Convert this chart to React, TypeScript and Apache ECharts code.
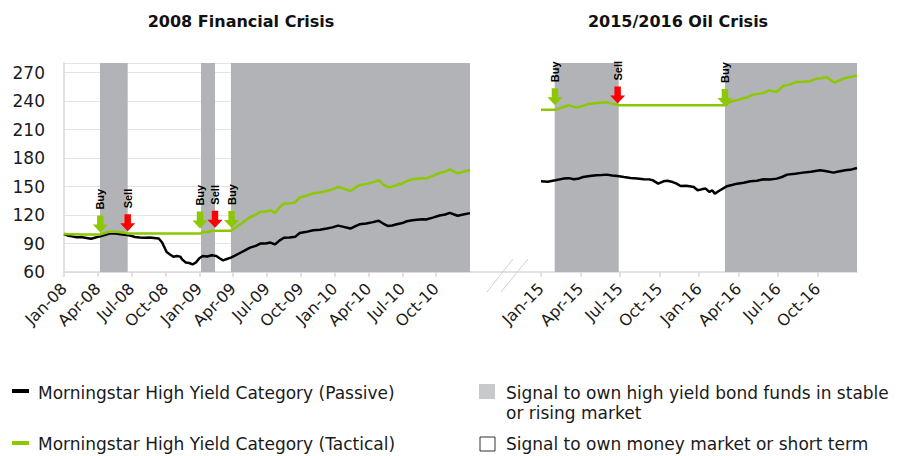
import React, { useEffect, useRef } from "react";
import * as echarts from "echarts";

// x values are months since the first month of each panel (Jan-08 / Jan-15)
const xLabels2008 = ["Jan-08", "Apr-08", "Jul-08", "Oct-08", "Jan-09", "Apr-09", "Jul-09", "Oct-09", "Jan-10", "Apr-10", "Jul-10", "Oct-10"];
const xLabels2015 = ["Jan-15", "Apr-15", "Jul-15", "Oct-15", "Jan-16", "Apr-16", "Jul-16", "Oct-16"];

const passive2008: [number, number][] = [
  [0, 100], [0.3, 98.5], [0.7, 97.5], [1.1, 96.5], [1.5, 96.8], [2.0, 95.8], [2.4, 95.0], [2.8, 96.3],
  [3.2, 97.5], [3.6, 99], [4.1, 100.8], [4.6, 100.5], [5.0, 99.8], [5.4, 99.2], [5.85, 98.3], [6.3, 96.8],
  [6.7, 96.2], [7.2, 96.0], [7.6, 96.3], [8.0, 95.8], [8.4, 95.2], [8.7, 91], [8.9, 86], [9.1, 81],
  [9.4, 78.5], [9.7, 76], [10.0, 76.8], [10.3, 76.2], [10.5, 73], [10.8, 70], [11.1, 69.5], [11.4, 68],
  [11.7, 70], [12.0, 74.5], [12.3, 76.8], [12.7, 76.3], [13.1, 77.6], [13.5, 76.8], [13.8, 74.5], [14.1, 72.3],
  [14.5, 74], [14.8, 75.2], [15.2, 77.5], [15.6, 80], [16.0, 82.5], [16.5, 85.7], [17.0, 87.5], [17.4, 89.9],
  [17.9, 90], [18.3, 91], [18.7, 89], [19.1, 93], [19.5, 96], [20.0, 96.2], [20.5, 97], [20.9, 101],
  [21.4, 102], [22.1, 103.9], [22.7, 104.5], [23.3, 105.7], [23.8, 107], [24.3, 108.8], [24.8, 107.5], [25.4, 105.7],
  [25.8, 108], [26.2, 110.2], [26.8, 111], [27.4, 112.5], [27.9, 114], [28.3, 111], [28.7, 108.5], [29.1, 109],
  [29.5, 110.2], [30.0, 111.5], [30.4, 113.4], [30.9, 114.5], [31.3, 115.1], [31.8, 115.5], [32.1, 115.2], [32.7, 117.2],
  [33.3, 119.5], [33.8, 120.5], [34.2, 122.3], [34.6, 120.5], [34.9, 119.2], [35.4, 120.5], [36, 122],
];

const tactical2008: [number, number][] = [
  [0, 100], [0.5, 99.8], [1.1, 99.7], [1.6, 99.6], [2.2, 99.4], [2.8, 99.4], [3.2, 99.5], [3.6, 101],
  [4.1, 102.5], [4.6, 102.3], [5.0, 101.8], [5.4, 101.2], [5.65, 100.6], [12.15, 100.6], [12.3, 102.3], [12.7, 101.8],
  [13.1, 103.4], [13.4, 103.4], [14.8, 103.4], [15.2, 106.5], [15.6, 110], [16.0, 113.5], [16.5, 117.8], [17.0, 120.3],
  [17.4, 123.5], [17.9, 123.6], [18.3, 125], [18.7, 122.3], [19.1, 127.8], [19.5, 132], [20.0, 132.2], [20.5, 133.3],
  [20.9, 138.5], [21.4, 140], [22.1, 142.8], [22.7, 143.6], [23.3, 145.3], [23.8, 147], [24.3, 149.5], [24.8, 147.8],
  [25.4, 145.3], [25.8, 148.5], [26.2, 151.5], [26.8, 152.5], [27.4, 154.6], [27.9, 156.6], [28.3, 152.5], [28.7, 149.2],
  [29.1, 149.8], [29.5, 151.5], [30.0, 153.2], [30.4, 155.8], [30.9, 157.3], [31.3, 158.2], [31.8, 158.8], [32.1, 158.3],
  [32.7, 161.1], [33.3, 164.2], [33.8, 165.6], [34.2, 168], [34.6, 165.6], [34.9, 163.8], [35.4, 165.6], [36, 167.5],
];

const passive2015: [number, number][] = [
  [0, 155.5], [0.5, 155], [1.1, 156.5], [1.7, 158.3], [2.1, 158.8], [2.5, 157.6], [2.9, 158.5], [3.2, 160],
  [3.7, 161], [4.2, 161.8], [4.6, 162], [5.0, 162.5], [5.4, 161.5], [5.8, 161.1], [6.3, 160], [6.8, 159],
  [7.3, 158.5], [7.8, 157.6], [8.2, 157.5], [8.5, 156.5], [8.9, 153], [9.3, 155.5], [9.6, 156], [10.0, 154.7],
  [10.3, 153], [10.6, 150.5], [11.0, 150.8], [11.3, 150.2], [11.6, 149.5], [11.9, 146], [12.2, 147], [12.5, 147.8],
  [12.8, 144.2], [13.0, 146], [13.2, 142.5], [13.6, 146], [14.1, 150.2], [14.5, 151.5], [14.9, 153], [15.4, 154],
  [15.9, 155.5], [16.4, 156], [16.9, 157.6], [17.4, 157.3], [17.9, 158.3], [18.3, 160], [18.7, 162.5], [19.3, 163.5],
  [19.9, 164.6], [20.5, 165.5], [21.2, 167], [21.7, 166], [22.2, 164.6], [22.6, 165.8], [23.1, 167], [23.6, 168], [24, 169.5],
];

const tactical2015: [number, number][] = [
  [0, 230.9], [1.1, 230.9], [1.4, 232.3], [1.7, 233.7], [2.1, 235.5], [2.7, 233], [3.1, 234.5], [3.5, 236.5],
  [4.2, 237.9], [5.0, 238.6], [5.4, 237.2], [5.9, 235.5], [14.0, 235.5], [14.3, 238.5], [14.6, 240], [15.0, 241.2],
  [15.4, 243.2], [15.7, 244], [16.1, 246.7], [16.5, 247.5], [16.9, 248.4], [17.3, 251.3], [17.9, 249.5], [18.4, 255.8],
  [18.8, 257], [19.4, 260], [19.9, 260.3], [20.4, 260.7], [20.9, 263.6], [21.3, 264], [21.7, 265.3], [22.0, 262],
  [22.3, 259.4], [22.7, 262], [23.1, 264.2], [23.6, 265.5], [24, 267],
];

// periods with a signal to own high yield bond funds [start, end] in months
const owned2008: [number, number][] = [[3.19, 5.65], [12.15, 13.39], [14.8, 36]];
const owned2015: [number, number][] = [[1.04, 5.9], [13.97, 24]];

// buy / sell signals: [month, level of arrow tip, type]
const signals2008: [number, number, string][] = [
  [3.22, 101.5, "Buy"], [5.65, 102.8, "Sell"], [12.06, 105.7, "Buy"], [13.39, 106.7, "Sell"], [14.86, 106.3, "Buy"],
];
const signals2015: [number, number, string][] = [
  [1.06, 235.5, "Buy"], [5.82, 237.3, "Sell"], [13.97, 234.8, "Buy"],
];

const GREEN = "#8cc800";
const RED = "#ff0000";
const SHADE = "#b1b3b6";
const AXIS = "#d9d9d9";
const FONT = "DejaVu Sans";
const ARROW = "path://M4,0 L10,0 L10,9 L14,9 L7,17 L0,9 L4,9 Z";

function signalPoints(sig: [number, number, string][]) {
  return sig.map(([m, v, t]) => ({
    coord: [m, v],
    symbol: ARROW,
    symbolSize: [15, 17],
    symbolOffset: [0, "-50%"],
    itemStyle: { color: t === "Buy" ? GREEN : RED },
    label: {
      show: true,
      formatter: t,
      position: "top",
      distance: 6,
      rotate: 90,
      align: "left",
      verticalAlign: "middle",
      color: "#000",
      fontSize: 11,
      fontWeight: "bold",
      fontFamily: "Liberation Sans",
    },
  }));
}

function areas(list: [number, number][]) {
  return list.map(([a, b]) => [{ xAxis: a }, { xAxis: b }]);
}

export default function App() {
  const ref = useRef<HTMLDivElement>(null);
  useEffect(() => {
    if (!ref.current) return;
    const chart = echarts.init(ref.current, null, { renderer: "svg" });
    const xAxisCommon = {
      type: "value",
      interval: 3,
      axisLine: { show: true, lineStyle: { color: AXIS, width: 1.5 } },
      axisTick: { show: true, length: 5, lineStyle: { color: AXIS, width: 1.5 } },
      splitLine: { show: false },
      axisLabel: {
        rotate: 45,
        margin: 14,
        fontSize: 16,
        fontFamily: FONT,
        color: "#1a1a1a",
        showMaxLabel: false,
      },
    };
    const legendFont = `17px '${FONT}'`;
    chart.setOption({
      animation: false,
      title: [
        { text: "2008 Financial Crisis", left: 236, top: 8, textAlign: "center", textStyle: { fontFamily: FONT, fontSize: 16, fontWeight: "bold", color: "#111" } },
        { text: "2015/2016 Oil Crisis", left: 673, top: 8, textAlign: "center", textStyle: { fontFamily: FONT, fontSize: 16, fontWeight: "bold", color: "#111" } },
      ],
      grid: [
        { left: 64, top: 63, width: 406, height: 209 },
        { left: 541, top: 63, width: 316, height: 209 },
      ],
      xAxis: [
        { ...xAxisCommon, gridIndex: 0, min: 0, max: 36, axisLabel: { ...xAxisCommon.axisLabel, formatter: (v: number) => xLabels2008[Math.round(v / 3)] ?? "" } },
        { ...xAxisCommon, gridIndex: 1, min: 0, max: 24, axisLabel: { ...xAxisCommon.axisLabel, formatter: (v: number) => xLabels2015[Math.round(v / 3)] ?? "" } },
      ],
      yAxis: [
        {
          type: "value", gridIndex: 0, min: 60, max: 280, interval: 30,
          axisLine: { show: true, lineStyle: { color: AXIS, width: 1.5 } },
          axisTick: { show: false },
          splitLine: { show: true, lineStyle: { color: "#e4e4e4", width: 1 } },
          axisLabel: { fontSize: 17, fontFamily: FONT, color: "#1a1a1a", margin: 19, showMaxLabel: false },
        },
        { type: "value", gridIndex: 1, min: 60, max: 280, interval: 30, show: false, splitLine: { show: false } },
      ],
      series: [
        {
          name: "Morningstar High Yield Category (Passive)", type: "line", xAxisIndex: 0, yAxisIndex: 0,
          data: passive2008, showSymbol: false, symbol: "none", lineStyle: { color: "#000", width: 2.5 },
          markArea: { silent: true, itemStyle: { color: SHADE }, data: areas(owned2008) },
        },
        {
          name: "Morningstar High Yield Category (Tactical)", type: "line", xAxisIndex: 0, yAxisIndex: 0,
          data: tactical2008, showSymbol: false, symbol: "none", lineStyle: { color: GREEN, width: 2.5 },
          markPoint: { silent: true, data: signalPoints(signals2008) },
        },
        {
          name: "Morningstar High Yield Category (Passive)", type: "line", xAxisIndex: 1, yAxisIndex: 1,
          data: passive2015, showSymbol: false, symbol: "none", lineStyle: { color: "#000", width: 2.5 },
          markArea: { silent: true, itemStyle: { color: SHADE }, data: areas(owned2015) },
        },
        {
          name: "Morningstar High Yield Category (Tactical)", type: "line", xAxisIndex: 1, yAxisIndex: 1,
          data: tactical2015, showSymbol: false, symbol: "none", lineStyle: { color: GREEN, width: 2.5 },
          markPoint: { silent: true, data: signalPoints(signals2015) },
        },
      ],
      graphic: [
        { type: "line", shape: { x1: 470, y1: 272, x2: 541, y2: 272 }, style: { stroke: AXIS, lineWidth: 1.5 } },
        { type: "line", shape: { x1: 487, y1: 292, x2: 513, y2: 259 }, style: { stroke: "#d0d0d0", lineWidth: 1 } },
        { type: "line", shape: { x1: 501, y1: 292, x2: 528, y2: 259 }, style: { stroke: "#d0d0d0", lineWidth: 1 } },
        // legend
        { type: "rect", shape: { x: 12, y: 389, width: 17, height: 4 }, style: { fill: "#000" } },
        { type: "text", x: 38, y: 393, style: { text: "Morningstar High Yield Category (Passive)", font: legendFont, fill: "#1a1a1a", verticalAlign: "middle" } },
        { type: "rect", shape: { x: 12, y: 441, width: 17, height: 4 }, style: { fill: GREEN } },
        { type: "text", x: 38, y: 444, style: { text: "Morningstar High Yield Category (Tactical)", font: legendFont, fill: "#1a1a1a", verticalAlign: "middle" } },
        { type: "rect", shape: { x: 479, y: 384, width: 16, height: 15 }, style: { fill: "#c8c9cb" } },
        { type: "text", x: 506, y: 393, style: { text: "Signal to own high yield bond funds in stable", font: legendFont, fill: "#1a1a1a", verticalAlign: "middle" } },
        { type: "text", x: 506, y: 413, style: { text: "or rising market", font: legendFont, fill: "#1a1a1a", verticalAlign: "middle" } },
        { type: "rect", shape: { x: 480, y: 437, width: 15, height: 14 }, style: { fill: "#fff", stroke: "#333", lineWidth: 1 } },
        { type: "text", x: 506, y: 444, style: { text: "Signal to own money market or short term", font: legendFont, fill: "#1a1a1a", verticalAlign: "middle" } },
      ],
    });
    return () => chart.dispose();
  }, []);
  return <div ref={ref} style={{ width: 902, height: 456, position: "absolute", left: 0, top: 0 }} />;
}
